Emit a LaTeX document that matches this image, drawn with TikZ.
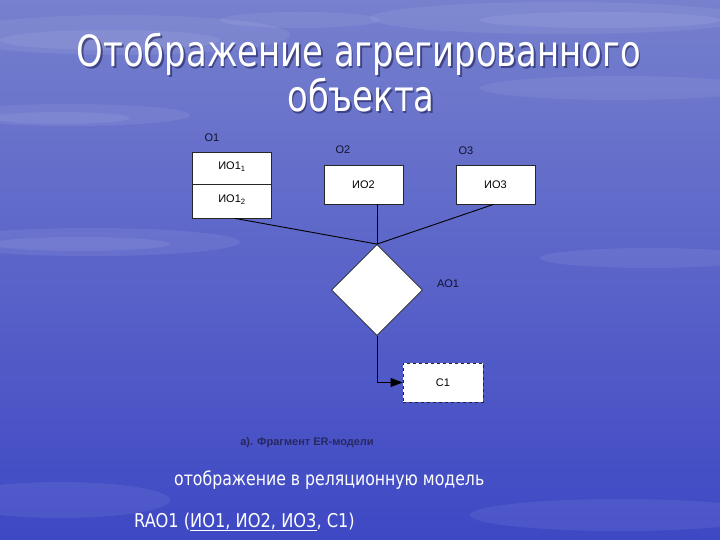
\documentclass[tikz,border=0pt]{standalone}
\usepackage{fontspec}
\setmainfont{DejaVu Sans Condensed}
\newfontfamily\titlefont{DejaVu Sans Condensed}[FakeStretch=0.875]
\newfontfamily\bodyfont{DejaVu Sans Condensed}[FakeStretch=0.92]
\newfontfamily\bodyfontb{DejaVu Sans Condensed}[FakeStretch=0.95]
\newfontfamily\erfont{Liberation Sans}
\usetikzlibrary{shapes.geometric,arrows.meta}
\definecolor{bgtop}{RGB}{118,128,205}
\definecolor{bgmid}{RGB}{54,56,182}
\definecolor{bgbot}{RGB}{62,72,196}
\definecolor{lblcol}{RGB}{18,18,45}
\definecolor{capcol}{RGB}{40,40,95}
\definecolor{shadowcol}{RGB}{25,25,80}
\tikzset{
  erbox/.style={draw=black!85, fill=white, line width=0.8pt, inner sep=0pt,
    minimum width=79pt, font=\erfont\fontsize{11}{13}\selectfont, text=black},
  erdia/.style={diamond, draw=black!85, fill=white, line width=0.8pt, inner sep=0pt,
    minimum width=91pt, minimum height=91pt},
  erlbl/.style={font=\erfont\fontsize{11}{13}\selectfont, text=lblcol, inner sep=0pt},
  conn/.style={draw=black, line width=0.9pt},
  titletxt/.style={font=\titlefont\fontsize{43}{46}\selectfont, text=white, inner sep=0pt},
  titleshadow/.style={font=\titlefont\fontsize{43}{46}\selectfont, text=shadowcol, inner sep=0pt, opacity=0.55},
  bodytxt/.style={font=\bodyfont\fontsize{19}{22}\selectfont, text=white, inner sep=0pt},
  bodytxtb/.style={font=\bodyfontb\fontsize{19}{22}\selectfont, text=white, inner sep=0pt},
  cloud/.style={fill=white, opacity=0.07}
}
\begin{document}
\begin{tikzpicture}[x=1pt,y=-1pt]
\useasboundingbox (0,0) rectangle (720,540);
% background
\shade[top color=bgtop, middle color=bgmid, bottom color=bgbot] (0,0) rectangle (720,540);
\foreach \cx/\cy/\rx/\ry in {120/35/170/20, 110/40/110/10, 560/18/190/16, 600/20/120/8,
  620/88/140/12, 70/115/120/11, 60/118/70/6, 90/242/150/14, 80/244/90/7,
  650/258/110/10, 60/500/110/18, 620/515/150/16, 300/20/80/8}
  {\fill[cloud] (\cx,\cy) ellipse (\rx pt and \ry pt);}
% title
\node[titleshadow, anchor=base] (t1s) at (360.5,68.5) {Отображение агрегированного};
\node[titleshadow, anchor=base] (t2s) at (362.5,113.5) {объекта};
\node[titletxt, anchor=base] (t1) at (359,67) {Отображение агрегированного};
\node[titletxt, anchor=base] (t2) at (361,112) {объекта};
% ER diagram
\node[erbox, minimum height=32pt] (o1a) at (232,168) {\raisebox{4pt}{ИО1\textsubscript{1}}};
\node[erbox, minimum height=34pt] (o1b) at (232,201) {\raisebox{4pt}{ИО1\textsubscript{2}}};
\node[erbox, minimum height=39pt] (o2) at (363.5,184.5) {ИО2};
\node[erbox, minimum height=39pt] (o3) at (495.5,184.5) {ИО3};
\node[erdia] (ao) at (377,290) {};
\node[erbox, minimum width=80pt, minimum height=39pt, dashed] (c1) at (443,382.5) {C1};
\node[erlbl] (lo1) at (212,138) {O1};
\node[erlbl] (lo2) at (343,150) {O2};
\node[erlbl] (lo3) at (466,151) {O3};
\node[erlbl] (lao) at (448,284) {AO1};
\draw[conn] ([xshift=3pt]o1b.south) -- (ao.north);
\draw[conn] (ao.north |- o2.south) -- (ao.north);
\draw[conn] ([xshift=-2pt]o3.south) -- (ao.north);
\draw[conn, -{Triangle[length=12pt,width=9pt]}] (ao.south) |- (c1.west);
\node[font=\erfont\bfseries\fontsize{11}{13}\selectfont, text=capcol, inner sep=0pt] (cap) at (307,443) {а). Фрагмент ER-модели};
% body text
\node[bodytxt, anchor=base west] (b1) at (174,485) {отображение в реляционную модель};
\node[bodytxtb, anchor=base west] (b2) at (134,527) {RAO1 (\underline{ИО1, ИО2, ИО3}, C1)};
\end{tikzpicture}
\end{document}
